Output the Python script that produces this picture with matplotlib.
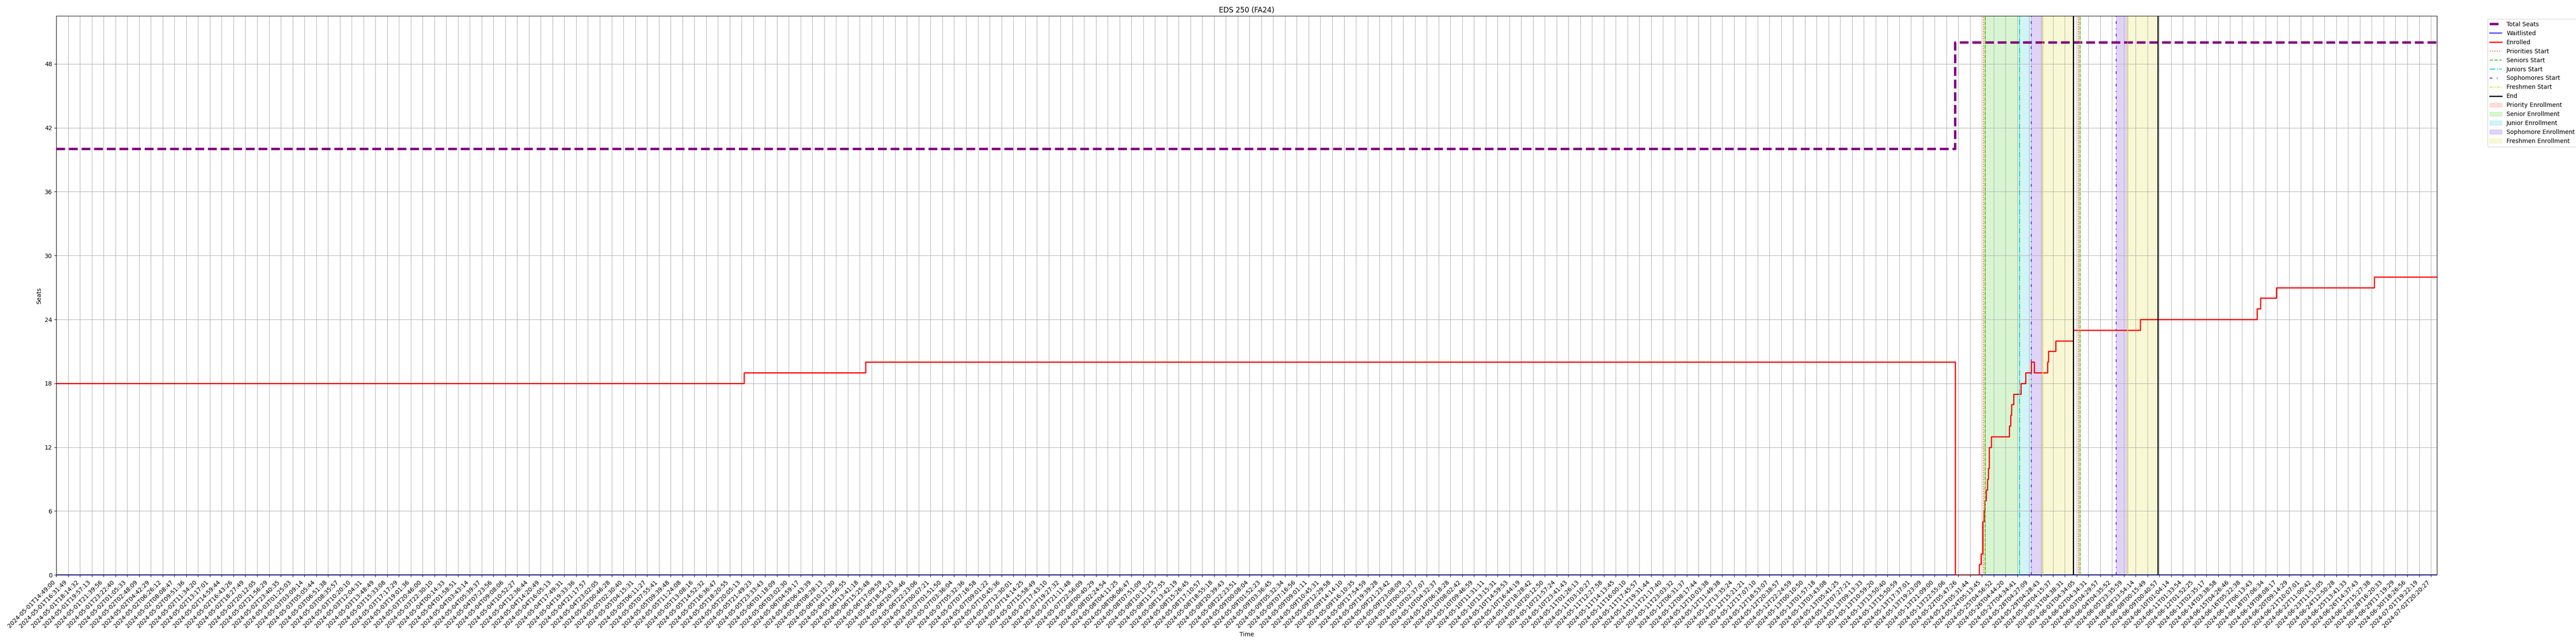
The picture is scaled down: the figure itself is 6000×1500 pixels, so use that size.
import matplotlib
matplotlib.use("Agg")
import matplotlib.pyplot as plt

# sample timestamps shown on the x axis (one tick per labelled sample)
tick_labels = [
    "2024-05-01T14:49:00", "2024-05-01T16:31:49", "2024-05-01T18:14:32", "2024-05-01T19:57:13",
    "2024-05-01T21:39:56", "2024-05-01T23:22:40", "2024-05-02T01:05:33", "2024-05-02T02:48:09",
    "2024-05-02T04:42:29", "2024-05-02T06:26:12", "2024-05-02T08:08:47", "2024-05-02T09:51:36",
    "2024-05-02T11:34:20", "2024-05-02T13:17:01", "2024-05-02T14:59:44", "2024-05-02T16:43:26",
    "2024-05-02T18:27:49", "2024-05-02T20:12:05", "2024-05-02T21:56:29", "2024-05-02T23:40:35",
    "2024-05-03T01:25:03", "2024-05-03T03:09:14", "2024-05-03T05:05:44", "2024-05-03T06:51:38",
    "2024-05-03T08:35:57", "2024-05-03T10:20:10", "2024-05-03T12:04:31", "2024-05-03T13:48:49",
    "2024-05-03T15:33:08", "2024-05-03T17:17:29", "2024-05-03T19:01:36", "2024-05-03T20:46:00",
    "2024-05-03T22:30:10", "2024-05-04T00:14:33", "2024-05-04T01:58:51", "2024-05-04T03:43:14",
    "2024-05-04T05:39:37", "2024-05-04T07:23:56", "2024-05-04T09:08:06", "2024-05-04T10:52:27",
    "2024-05-04T12:36:44", "2024-05-04T14:20:49", "2024-05-04T16:05:13", "2024-05-04T17:49:31",
    "2024-05-04T19:33:36", "2024-05-04T21:17:57", "2024-05-04T23:02:05", "2024-05-05T00:46:28",
    "2024-05-05T02:30:40", "2024-05-05T04:15:31", "2024-05-05T06:11:27", "2024-05-05T07:55:41",
    "2024-05-05T09:39:48", "2024-05-05T11:24:08", "2024-05-05T13:08:16", "2024-05-05T14:52:32",
    "2024-05-05T16:36:47", "2024-05-05T18:20:55", "2024-05-05T20:05:13", "2024-05-05T21:49:23",
    "2024-05-05T23:33:43", "2024-05-06T01:18:09", "2024-05-06T03:02:30", "2024-05-06T04:59:17",
    "2024-05-06T06:43:39", "2024-05-06T08:28:13", "2024-05-06T10:12:30", "2024-05-06T11:56:55",
    "2024-05-06T13:41:18", "2024-05-06T15:25:48", "2024-05-06T17:09:59", "2024-05-06T18:54:23",
    "2024-05-06T20:38:46", "2024-05-06T22:23:06", "2024-05-07T00:07:21", "2024-05-07T01:51:50",
    "2024-05-07T03:36:04", "2024-05-07T05:32:36", "2024-05-07T07:16:58", "2024-05-07T09:01:22",
    "2024-05-07T10:45:36", "2024-05-07T12:30:01", "2024-05-07T14:14:25", "2024-05-07T15:58:49",
    "2024-05-07T17:43:10", "2024-05-07T19:27:32", "2024-05-07T21:11:48", "2024-05-07T22:56:09",
    "2024-05-08T00:40:29", "2024-05-08T02:24:54", "2024-05-08T04:11:25", "2024-05-08T06:06:47",
    "2024-05-08T07:51:09", "2024-05-08T10:13:25", "2024-05-08T11:57:55", "2024-05-08T13:42:19",
    "2024-05-08T15:26:45", "2024-05-08T17:10:57", "2024-05-08T18:55:18", "2024-05-08T20:39:43",
    "2024-05-08T22:23:51", "2024-05-09T00:08:04", "2024-05-09T01:52:23", "2024-05-09T03:36:45",
    "2024-05-09T05:32:34", "2024-05-09T07:16:56", "2024-05-09T09:01:11", "2024-05-09T10:45:31",
    "2024-05-09T12:29:58", "2024-05-09T14:14:10", "2024-05-09T16:10:35", "2024-05-09T17:54:59",
    "2024-05-09T19:39:28", "2024-05-09T21:23:42", "2024-05-09T23:08:09", "2024-05-10T00:52:37",
    "2024-05-10T02:37:07", "2024-05-10T04:32:37", "2024-05-10T06:18:28", "2024-05-10T08:02:42",
    "2024-05-10T09:46:59", "2024-05-10T11:31:11", "2024-05-10T13:15:31", "2024-05-10T14:59:53",
    "2024-05-10T16:44:19", "2024-05-10T18:28:42", "2024-05-10T20:12:50", "2024-05-10T21:57:24",
    "2024-05-10T23:41:43", "2024-05-11T01:26:13", "2024-05-11T03:10:27", "2024-05-11T12:27:58",
    "2024-05-11T14:13:45", "2024-05-11T16:00:10", "2024-05-11T17:45:57", "2024-05-11T19:31:44",
    "2024-05-11T21:17:40", "2024-05-11T23:03:32", "2024-05-12T06:31:37", "2024-05-12T08:17:44",
    "2024-05-12T10:03:38", "2024-05-12T11:49:38", "2024-05-12T13:35:24", "2024-05-12T15:21:21",
    "2024-05-12T17:07:10", "2024-05-12T18:53:07", "2024-05-12T20:38:57", "2024-05-12T22:24:59",
    "2024-05-13T00:10:50", "2024-05-13T01:57:18", "2024-05-13T03:43:08", "2024-05-13T05:41:25",
    "2024-05-13T07:27:21", "2024-05-13T09:13:33", "2024-05-13T10:59:20", "2024-05-13T13:50:40",
    "2024-05-13T15:50:59", "2024-05-13T17:37:01", "2024-05-13T19:23:09", "2024-05-13T21:09:00",
    "2024-05-13T22:55:06", "2024-05-22T05:47:26", "2024-05-23T05:31:44", "2024-05-24T05:13:45",
    "2024-05-25T04:56:52", "2024-05-26T04:44:20", "2024-05-27T04:34:41", "2024-05-28T04:27:09",
    "2024-05-29T04:28:43", "2024-05-30T04:15:37", "2024-05-31T04:38:31", "2024-06-01T04:34:05",
    "2024-06-02T04:34:31", "2024-06-03T04:29:57", "2024-06-04T04:35:52", "2024-06-05T23:35:59",
    "2024-06-06T23:54:14", "2024-06-08T00:15:49", "2024-06-09T00:40:57", "2024-06-10T01:04:14",
    "2024-06-11T01:33:54", "2024-06-12T01:52:25", "2024-06-13T02:35:17", "2024-06-14T03:38:58",
    "2024-06-15T04:26:46", "2024-06-16T05:22:38", "2024-06-17T06:13:43", "2024-06-18T07:06:34",
    "2024-06-19T08:08:17", "2024-06-20T09:14:29", "2024-06-21T10:07:01", "2024-06-22T11:00:42",
    "2024-06-23T11:53:05", "2024-06-24T12:50:28", "2024-06-25T13:41:33", "2024-06-26T14:37:43",
    "2024-06-27T15:27:38", "2024-06-28T16:20:33", "2024-06-29T17:19:29", "2024-06-30T18:26:56",
    "2024-07-01T19:22:19", "2024-07-02T20:20:27",
]

# last sample sits a bit past the last labelled tick
last_pos = 201.5

# step series, positions in tick units
seats_pos = [0, 160.72]
seats_vals = [40, 50]

enrolled_pos = [0, 58.2, 68.5, 160.72, 162.76, 162.91, 163.04, 163.17, 163.24, 163.33,
                163.44, 163.54, 163.61, 163.80, 165.30, 165.41, 165.50, 165.69, 166.31,
                166.69, 167.17, 167.41, 168.54, 168.63, 169.24, 170.74, 176.39, 186.28,
                186.56, 187.9, 196.2]
enrolled_vals = [18, 19, 20, 0, 1, 2, 5, 6, 7, 8,
                 9, 10, 12, 13, 14, 15, 16, 17, 18,
                 19, 20, 19, 20, 21, 22, 23, 24, 25,
                 26, 27, 28]

waitlist_pos = [0]
waitlist_vals = [0]

# enrollment phase boundaries (None = not present in that phase)
priority_starts = [163.13, 171.17]
senior_starts = [163.28, 171.30]
junior_starts = [166.20, None]
sophomore_starts = [167.17, 174.35]
freshmen_starts = [168.15, 175.33]
end_points = [170.72, 177.90]

c_pri = "#e8622c"
c_sen = "#3fcf1f"
c_jun = "#1cc9d6"
c_sop = "#6a22d8"
c_fre = "#dede2a"


def steps(pos, vals):
    return list(pos) + [last_pos], list(vals) + [vals[-1]]


fig, ax = plt.subplots(figsize=(60, 15), dpi=100)

x, y = steps(seats_pos, seats_vals)
ax.step(x, y, where="post", color="purple", linestyle="--", linewidth=4, label="Total Seats")
x, y = steps(waitlist_pos, waitlist_vals)
ax.step(x, y, where="post", color="blue", linewidth=1.5, label="Waitlisted")
x, y = steps(enrolled_pos, enrolled_vals)
ax.step(x, y, where="post", color="red", linewidth=2, label="Enrolled")

for i in range(len(end_points)):
    first = i == 0
    ax.axvline(priority_starts[i], color=c_pri, linestyle=":", linewidth=1.5,
               label="Priorities Start" if first else None)
    ax.axvline(senior_starts[i], color=c_sen, linestyle="--", linewidth=1.5,
               label="Seniors Start" if first else None)
    if junior_starts[i] is not None:
        ax.axvline(junior_starts[i], color=c_jun, linestyle="-.", linewidth=1.5,
                   label="Juniors Start" if first else None)
    ax.axvline(sophomore_starts[i], color=c_sop, linestyle=(0, (3, 5, 1, 5)), linewidth=1.5,
               label="Sophomores Start" if first else None)
    ax.axvline(freshmen_starts[i], color=c_fre, linestyle=(0, (3, 1, 1, 1, 1, 1)), linewidth=1.5,
               label="Freshmen Start" if first else None)
    ax.axvline(end_points[i], color="black", linestyle="-", linewidth=2,
               label="End" if first else None)

for i in range(len(end_points)):
    first = i == 0
    ax.axvspan(priority_starts[i], senior_starts[i], color=c_pri, alpha=0.2,
               label="Priority Enrollment" if first else None)
    if junior_starts[i] is not None:
        ax.axvspan(senior_starts[i], junior_starts[i], color=c_sen, alpha=0.2,
                   label="Senior Enrollment" if first else None)
        ax.axvspan(junior_starts[i], sophomore_starts[i], color=c_jun, alpha=0.2,
                   label="Junior Enrollment" if first else None)
    ax.axvspan(sophomore_starts[i], freshmen_starts[i], color=c_sop, alpha=0.2,
               label="Sophomore Enrollment" if first else None)
    ax.axvspan(freshmen_starts[i], end_points[i], color=c_fre, alpha=0.2,
               label="Freshmen Enrollment" if first else None)

ax.set_xticks(range(len(tick_labels)))
ax.set_xticklabels(tick_labels, rotation=45, ha="right")
ax.set_xlim(0, last_pos)
ax.set_yticks(range(0, 49, 6))
ax.set_ylim(0, 52.5)
ax.grid(True)

ax.set_title("EDS 250 (FA24)")
ax.set_xlabel("Time")
ax.set_ylabel("Seats")
ax.legend(bbox_to_anchor=(1.02, 1), loc="upper left")

plt.tight_layout()
plt.savefig("out.png")
